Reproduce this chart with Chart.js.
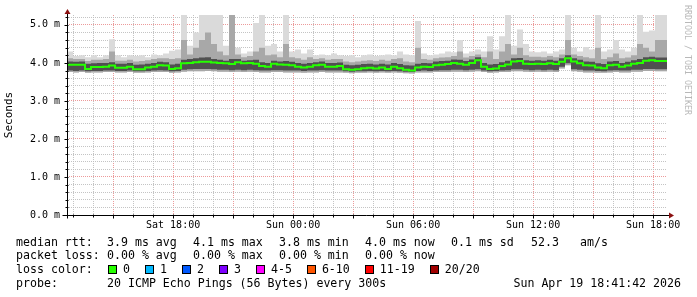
<!DOCTYPE html>
<html>
<head>
<meta charset="utf-8">
<script src="https://cdn.jsdelivr.net/npm/chart.js@4.4.1/dist/chart.umd.min.js"></script>
<style>
  html, body { margin: 0; padding: 0; background: #fff; }
  #wrap { position: relative; width: 697px; height: 297px; overflow: hidden; font-family: "DejaVu Sans Mono", monospace; color: #000; }
  #graph { position: absolute; left: 0; top: 0; }
  .t { position: absolute; font-size: 11.6px; line-height: 14px; white-space: pre; }
  .row { position: absolute; display: flex; align-items: center; font-size: 11.6px; line-height: 14px; white-space: pre; }
  .box { display: inline-block; box-sizing: border-box; width: 9px; height: 9px; border: 1px solid #000; margin-right: 6px; }
  .lab { margin-right: 15px; }
  .wm { position: absolute; writing-mode: vertical-rl; font-size: 8.3px; line-height: 9px; color: #b8b8b8; white-space: pre; }
</style>
</head>
<body>
<div id="wrap">
  <canvas id="graph" width="697" height="297"></canvas>
  <div class="wm" style="left:683px; top:5px;">RRDTOOL / TOBI OETIKER</div>

  <div class="t" style="left:16px; top:235px;">median rtt:</div>
  <div class="t" style="left:107px; top:235px;">3.9 ms avg</div>
  <div class="t" style="left:193px; top:235px;">4.1 ms max</div>
  <div class="t" style="left:279px; top:235px;">3.8 ms min</div>
  <div class="t" style="left:365px; top:235px;">4.0 ms now</div>
  <div class="t" style="left:451px; top:235px;">0.1 ms sd</div>
  <div class="t" style="left:531px; top:235px;">52.3</div>
  <div class="t" style="left:580px; top:235px;">am/s</div>

  <div class="t" style="left:16px; top:248px;">packet loss:</div>
  <div class="t" style="left:107px; top:248px;">0.00 % avg</div>
  <div class="t" style="left:193px; top:248px;">0.00 % max</div>
  <div class="t" style="left:279px; top:248px;">0.00 % min</div>
  <div class="t" style="left:365px; top:248px;">0.00 % now</div>

  <div class="t" style="left:16px; top:262px;">loss color:</div>
  <div class="row" id="lossRow" style="left:108px; top:262px;"></div>

  <div class="t" style="left:16px; top:276px;">probe:</div>
  <div class="t" style="left:107px; top:276px;">20 ICMP Echo Pings (56 Bytes) every 300s</div>
  <div class="t" style="right:16px; top:276px;">Sun Apr 19 18:41:42 2026</div>
</div>

<script>
(function () {
    'use strict';

    // graph window: 30 hours ending Sun Apr 19 18:41:42 2026, one sample per 18 minutes
    var graphStart = new Date(2026, 3, 18, 12, 41, 42);
    var spanHours = 30;
    var stepHours = 0.3;
    var dayNames = ['Sun', 'Mon', 'Tue', 'Wed', 'Thu', 'Fri', 'Sat'];

    // median rtt (ms)
    var rttMedian = [
        4.00, 3.95, 3.95, 3.95, 3.84, 3.89, 3.89, 3.90, 3.93, 3.87,
        3.87, 3.90, 3.83, 3.83, 3.88, 3.90, 3.94, 3.93, 3.84, 3.86,
        3.99, 4.00, 4.02, 4.03, 4.03, 4.01, 4.00, 3.99, 3.97, 4.02,
        3.99, 4.00, 3.98, 3.92, 3.90, 3.98, 3.96, 3.95, 3.94, 3.90,
        3.88, 3.90, 3.94, 3.95, 3.90, 3.90, 3.92, 3.83, 3.82, 3.83,
        3.86, 3.87, 3.85, 3.88, 3.84, 3.90, 3.86, 3.82, 3.80, 3.88,
        3.90, 3.89, 3.94, 3.95, 3.97, 4.00, 3.98, 3.95, 4.00, 4.07,
        3.90, 3.84, 3.85, 3.92, 3.96, 4.04, 4.05, 3.98, 3.97, 3.98,
        3.97, 3.99, 3.97, 4.03, 4.12, 4.04, 3.99, 3.94, 3.93, 3.88,
        3.86, 3.94, 3.95, 3.90, 3.93, 3.98, 4.00, 4.06, 4.07, 4.05
    ];

    // dense smoke, upper edge
    var rttHigh = [
        4.06, 4.04, 4.03, 4.04, 3.98, 3.99, 4.00, 4.00, 4.02, 3.98,
        3.98, 4.00, 3.95, 3.96, 3.98, 4.00, 4.03, 4.02, 3.96, 3.98,
        4.08, 4.10, 4.12, 4.14, 4.15, 4.10, 4.08, 4.06, 4.10, 4.10,
        4.06, 4.07, 4.08, 4.02, 4.00, 4.06, 4.04, 4.05, 4.03, 4.00,
        3.98, 4.00, 4.02, 4.04, 4.00, 4.00, 4.01, 3.95, 3.94, 3.95,
        3.97, 3.98, 3.96, 3.98, 3.96, 4.00, 3.97, 3.94, 3.93, 3.98,
        4.00, 3.99, 4.04, 4.05, 4.06, 4.09, 4.08, 4.05, 4.09, 4.15,
        4.00, 3.96, 3.97, 4.02, 4.06, 4.12, 4.13, 4.07, 4.06, 4.07,
        4.06, 4.08, 4.06, 4.12, 4.20, 4.12, 4.08, 4.04, 4.03, 3.99,
        3.97, 4.04, 4.05, 4.00, 4.03, 4.07, 4.10, 4.15, 4.16, 4.14
    ];

    // dense smoke, lower edge
    var rttLow = [
        3.80, 3.80, 3.79, 3.80, 3.78, 3.79, 3.79, 3.80, 3.80, 3.79,
        3.79, 3.80, 3.78, 3.78, 3.79, 3.80, 3.81, 3.80, 3.78, 3.79,
        3.82, 3.83, 3.84, 3.84, 3.84, 3.83, 3.82, 3.82, 3.81, 3.82,
        3.81, 3.82, 3.81, 3.80, 3.80, 3.81, 3.81, 3.80, 3.80, 3.80,
        3.79, 3.80, 3.80, 3.81, 3.80, 3.80, 3.80, 3.78, 3.77, 3.78,
        3.78, 3.79, 3.78, 3.79, 3.78, 3.79, 3.78, 3.77, 3.76, 3.79,
        3.80, 3.79, 3.80, 3.81, 3.81, 3.82, 3.82, 3.81, 3.82, 3.83,
        3.80, 3.78, 3.79, 3.80, 3.81, 3.83, 3.83, 3.82, 3.81, 3.82,
        3.81, 3.82, 3.81, 3.90, 3.99, 3.83, 3.82, 3.80, 3.80, 3.79,
        3.78, 3.80, 3.81, 3.80, 3.80, 3.82, 3.82, 3.84, 3.84, 3.83
    ];

    // middle smoke, upper edge
    var rttUpper = [
        4.15, 4.12, 4.10, 4.10, 4.05, 4.08, 4.08, 4.10, 4.30, 4.06,
        4.06, 4.08, 4.04, 4.05, 4.07, 4.10, 4.12, 4.12, 4.10, 4.12,
        4.60, 4.22, 4.40, 4.60, 4.80, 4.50, 4.30, 4.20, 5.26, 4.22,
        4.15, 4.18, 4.30, 4.40, 4.20, 4.22, 4.15, 4.50, 4.15, 4.12,
        4.08, 4.15, 4.10, 4.12, 4.08, 4.10, 4.10, 4.04, 4.02, 4.04,
        4.06, 4.07, 4.05, 4.08, 4.06, 4.10, 4.12, 4.04, 4.02, 4.40,
        4.10, 4.08, 4.12, 4.14, 4.15, 4.18, 4.30, 4.14, 4.18, 4.22,
        4.15, 4.30, 4.10, 4.30, 4.50, 4.22, 4.40, 4.20, 4.16, 4.16,
        4.15, 4.18, 4.15, 4.22, 4.60, 4.22, 4.18, 4.15, 4.12, 4.40,
        4.10, 4.15, 4.25, 4.12, 4.14, 4.20, 4.50, 4.40, 4.30, 4.60
    ];

    // slowest ping
    var rttMax = [
        4.30, 4.30, 4.18, 4.20, 4.15, 4.20, 4.15, 4.20, 4.62, 4.20,
        4.15, 4.20, 4.18, 4.20, 4.15, 4.22, 4.20, 4.25, 4.32, 4.35,
        5.26, 4.45, 4.80, 5.26, 5.26, 5.26, 5.26, 4.45, 5.26, 4.40,
        4.25, 4.30, 5.05, 5.26, 4.45, 4.50, 4.30, 5.26, 4.30, 4.35,
        4.25, 4.35, 4.20, 4.22, 4.20, 4.25, 4.20, 4.18, 4.20, 4.15,
        4.20, 4.22, 4.18, 4.20, 4.22, 4.20, 4.30, 4.22, 4.20, 5.10,
        4.25, 4.20, 4.22, 4.25, 4.30, 4.28, 4.60, 4.25, 4.30, 4.35,
        4.30, 4.70, 4.35, 4.70, 5.26, 4.45, 4.88, 4.50, 4.30, 4.28,
        4.30, 4.25, 4.30, 4.35, 5.26, 4.40, 4.30, 4.42, 4.35, 5.26,
        4.30, 4.35, 4.60, 4.35, 4.30, 4.40, 5.26, 4.82, 4.85, 5.26
    ];

    // fastest ping
    var rttMin = [
        3.76, 3.76, 3.75, 3.76, 3.74, 3.75, 3.75, 3.76, 3.76, 3.75,
        3.75, 3.76, 3.74, 3.74, 3.75, 3.76, 3.76, 3.76, 3.74, 3.75,
        3.77, 3.78, 3.78, 3.78, 3.79, 3.78, 3.77, 3.77, 3.76, 3.77,
        3.76, 3.77, 3.76, 3.75, 3.75, 3.76, 3.76, 3.75, 3.75, 3.75,
        3.74, 3.75, 3.75, 3.76, 3.75, 3.75, 3.75, 3.74, 3.73, 3.74,
        3.74, 3.75, 3.74, 3.75, 3.74, 3.75, 3.74, 3.73, 3.72, 3.75,
        3.75, 3.75, 3.76, 3.76, 3.76, 3.77, 3.77, 3.76, 3.77, 3.78,
        3.76, 3.74, 3.75, 3.76, 3.76, 3.78, 3.78, 3.77, 3.76, 3.77,
        3.76, 3.77, 3.76, 3.85, 3.94, 3.78, 3.77, 3.75, 3.75, 3.74,
        3.74, 3.75, 3.76, 3.75, 3.75, 3.77, 3.77, 3.79, 3.79, 3.78
    ];

    var yMax = 5.26;
    var yStep = 0.2;

    var lossLabels = ['0', '1', '2', '3', '4-5', '6-10', '11-19', '20/20'];
    var lossColors = ['#26ff00', '#00b8ff', '#0059ff', '#7e00ff', '#ff00ff', '#ff5500', '#ff0000', '#a10000'];

    // legend boxes
    var row = document.getElementById('lossRow');
    lossLabels.forEach(function (lab, i) {
        var b = document.createElement('span');
        b.className = 'box';
        b.style.background = lossColors[i];
        var s = document.createElement('span');
        s.className = 'lab';
        s.textContent = lab;
        row.appendChild(b);
        row.appendChild(s);
    });

    function series(vals) {
        var pts = vals.map(function (v, i) { return {x: i * stepHours, y: v}; });
        pts.push({x: vals.length * stepHours, y: vals[vals.length - 1]});
        return pts;
    }

    // first whole hour after the start
    var firstHour = (60 - graphStart.getMinutes() - graphStart.getSeconds() / 60) / 60;

    function clockOf(v) {
        return new Date(graphStart.getTime() + v * 3600000);
    }

    function hourOf(v) {
        return clockOf(v).getHours();
    }

    function pad(n) { return (n < 10 ? '0' : '') + n; }

    var MAJOR = 'rgba(230, 120, 120, 0.75)';
    var MINOR = 'rgba(190, 190, 190, 0.9)';

    var rrdAxes = {
        id: 'rrdAxes',
        afterDatasetsDraw: function (chart) {
            var ctx = chart.ctx;
            var a = chart.chartArea;
            var xs = chart.scales.x;
            var ys = chart.scales.y;
            var x0 = Math.round(a.left) + 0.5;
            var y0 = Math.round(a.bottom) + 0.5;
            ctx.save();
            ctx.strokeStyle = '#000';
            ctx.lineWidth = 1;
            ctx.beginPath();
            ctx.moveTo(x0 - 5, y0);
            ctx.lineTo(a.right + 3, y0);
            ctx.moveTo(x0, y0 + 3);
            ctx.lineTo(x0, a.top - 2);
            // tick marks
            xs.ticks.forEach(function (t) {
                var px = Math.round(xs.getPixelForValue(t.value)) + 0.5;
                var len = hourOf(t.value) % 3 === 0 ? 3 : 2;
                ctx.moveTo(px, y0 - 1);
                ctx.lineTo(px, y0 + len);
            });
            ys.ticks.forEach(function (t) {
                var py = Math.round(ys.getPixelForValue(t.value)) + 0.5;
                var len = Math.abs(t.value - Math.round(t.value)) < 1e-6 ? 3 : 2;
                ctx.moveTo(x0 - len, py);
                ctx.lineTo(x0 + 1, py);
            });
            ctx.stroke();
            // arrows
            ctx.fillStyle = '#8b1010';
            ctx.beginPath();
            ctx.moveTo(x0, a.top - 6);
            ctx.lineTo(x0 - 3, a.top - 1);
            ctx.lineTo(x0 + 3, a.top - 1);
            ctx.closePath();
            ctx.fill();
            ctx.beginPath();
            ctx.moveTo(a.right + 7, y0);
            ctx.lineTo(a.right + 2, y0 - 3);
            ctx.lineTo(a.right + 2, y0 + 3);
            ctx.closePath();
            ctx.fill();
            ctx.restore();
        }
    };

    var band = {pointRadius: 0, borderWidth: 0, stepped: 'after'};

    new Chart(document.getElementById('graph'), {
        type: 'line',
        data: {
            datasets: [
                Object.assign({label: 'median', data: series(rttMedian), borderColor: '#26ff00', fill: false}, band, {borderWidth: 2}),
                Object.assign({label: 'high', data: series(rttHigh), backgroundColor: '#505050', fill: {target: 2}}, band),
                Object.assign({label: 'low', data: series(rttLow), fill: false}, band),
                Object.assign({label: 'upper', data: series(rttUpper), backgroundColor: '#a8a8a8', fill: {target: 5}}, band),
                Object.assign({label: 'max', data: series(rttMax), backgroundColor: '#dadada', fill: {target: 5}}, band),
                Object.assign({label: 'min', data: series(rttMin), fill: false}, band)
            ]
        },
        options: {
            responsive: false,
            animation: false,
            events: [],
            layout: {padding: {top: 15, right: 30, left: 0, bottom: 0}},
            plugins: {legend: {display: false}, tooltip: {enabled: false}},
            scales: {
                x: {
                    type: 'linear',
                    min: 0,
                    max: spanHours,
                    afterFit: function (s) { s.height = 82; },
                    afterBuildTicks: function (s) {
                        var ticks = [];
                        for (var h = firstHour; h < spanHours; h += 1) {
                            ticks.push({value: h});
                        }
                        s.ticks = ticks;
                    },
                    border: {display: false, dash: [1, 1]},
                    grid: {
                        drawTicks: false,
                        lineWidth: 1,
                        color: function (c) {
                            return hourOf(c.tick.value) % 3 === 0 ? MAJOR : MINOR;
                        }
                    },
                    ticks: {
                        autoSkip: false,
                        maxRotation: 0,
                        padding: 4,
                        color: '#000',
                        font: {family: 'DejaVu Sans Mono', size: 10},
                        callback: function (v) {
                            var d = clockOf(v);
                            if (d.getHours() % 6 !== 0) { return ''; }
                            return dayNames[d.getDay()] + ' ' + pad(d.getHours()) + ':00';
                        }
                    }
                },
                y: {
                    min: 0,
                    max: yMax,
                    afterFit: function (s) { s.width = 67; },
                    afterBuildTicks: function (s) {
                        var ticks = [];
                        for (var k = 0; k * yStep <= yMax; k++) {
                            ticks.push({value: Math.round(k * yStep * 10) / 10});
                        }
                        s.ticks = ticks;
                    },
                    border: {display: false, dash: [1, 1]},
                    grid: {
                        drawTicks: false,
                        lineWidth: 1,
                        color: function (c) {
                            var v = c.tick.value;
                            return Math.abs(v - Math.round(v)) < 1e-6 ? MAJOR : MINOR;
                        }
                    },
                    ticks: {
                        autoSkip: false,
                        padding: 7,
                        color: '#000',
                        font: {family: 'DejaVu Sans Mono', size: 10},
                        callback: function (v) {
                            return Math.abs(v - Math.round(v)) < 1e-6 ? v.toFixed(1) + ' m' : '';
                        }
                    },
                    title: {
                        display: true,
                        text: 'Seconds',
                        color: '#000',
                        padding: {top: 3, bottom: 0},
                        font: {family: 'DejaVu Sans Mono', size: 11}
                    }
                }
            }
        },
        plugins: [rrdAxes]
    });
})();
</script>
</body>
</html>
